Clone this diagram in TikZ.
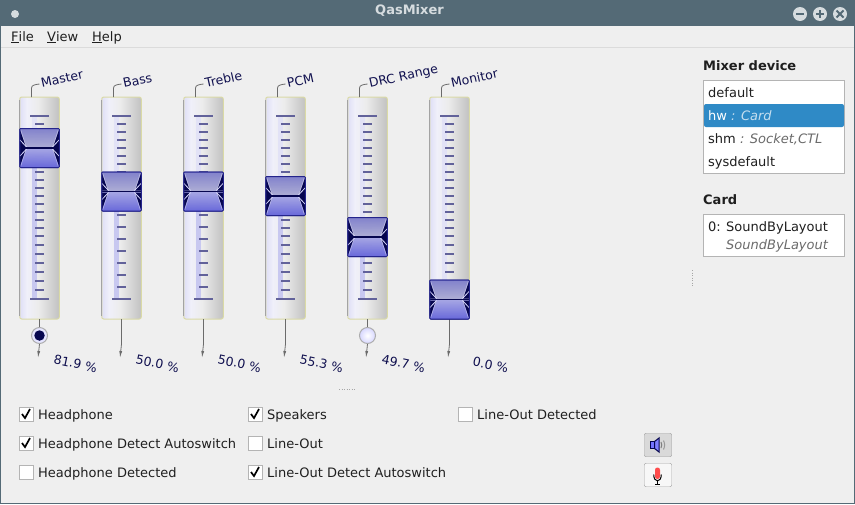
\documentclass[tikz,border=0pt]{standalone}
\usepackage{fontspec}
\setmainfont{DejaVu Sans}
\usetikzlibrary{arrows.meta}
\definecolor{titlebar}{HTML}{546A76}
\definecolor{titleglyph}{HTML}{D6DCDF}
\definecolor{windowbg}{HTML}{EFEFEF}
\definecolor{panelline}{HTML}{B4B4B4}
\definecolor{selectrow}{HTML}{2F8AC6}
\definecolor{navytext}{HTML}{10104F}
\definecolor{navydark}{HTML}{06064F}
\definecolor{tickcol}{HTML}{62629A}
\definecolor{edgeyellow}{HTML}{DADAA6}
\definecolor{handleedge}{HTML}{24248C}
\definecolor{uppertop}{HTML}{8E8EDC}
\definecolor{upperlow}{HTML}{BCBCE6}
\definecolor{lowertop}{HTML}{B4B4F6}
\definecolor{lowerlow}{HTML}{7272EC}
\definecolor{barlight}{HTML}{E2E2F6}
\definecolor{bardark}{HTML}{C8C8F0}
\pgfdeclarehorizontalshading{columnshade}{100bp}{
  rgb(0bp)=(.875,.875,.965); rgb(25bp)=(.875,.875,.965); rgb(34bp)=(.94,.94,.98);
  rgb(48bp)=(.925,.925,.925); rgb(75bp)=(.76,.76,.76); rgb(100bp)=(.76,.76,.76)}
\tikzset{
  plaintext/.style={anchor=base west, inner sep=0pt, font=\fontsize{13}{16}\selectfont, text=black!88},
  boldtext/.style={plaintext, font=\fontsize{13}{16}\selectfont\bfseries},
  hinttext/.style={plaintext, font=\fontsize{13}{16}\selectfont\itshape, text=black!58},
  fadertext/.style={anchor=base west, inner sep=0pt, font=\fontsize{12.5}{15}\selectfont, text=navytext},
  column/.style={draw=edgeyellow, line width=1pt, rounded corners=2pt, minimum width=39.5pt, minimum height=222pt, inner sep=0pt, outer sep=0pt, shading=columnshade},
  slider/.style={draw=handleedge, line width=1pt, rounded corners=1pt, minimum width=39.5pt, minimum height=39pt, inner sep=0pt, outer sep=0pt},
  leader/.style={draw=black!58, line width=.8pt},
  knob/.style={circle, draw=black!32, line width=1pt, minimum size=16pt, inner sep=0pt, fill=blue!10!white},
  chkbox/.style={draw=panelline, fill=white, minimum size=13.5pt, inner sep=0pt, outer sep=0pt},
  chkmark/.style={draw=black, line width=1.7pt},
  toolbtn/.style={draw=black!36, rounded corners=2pt, minimum width=27.5pt, minimum height=23.5pt, inner sep=0pt}
}
\def\ticksa{116,124,...,236,245,254,...,299}
\def\ticksb{116,124,...,172,180,191,203,215,227,...,299}
\begin{document}
\begin{tikzpicture}[x=1pt,y=-1pt]
\useasboundingbox (0,0) rectangle (855,504);
% window
\fill[windowbg] (0,0) rectangle (855,504);
\fill[titlebar] (0,0) rectangle (855,26);
\fill[titlebar] (0,0) rectangle (1,504);
\fill[titlebar] (854,0) rectangle (855,504);
\fill[titlebar] (0,503) rectangle (855,504);
\draw[black!14] (1,47.5) -- (854,47.5);
\node[font=\fontsize{13}{16}\selectfont\bfseries, text=titleglyph] (title) at (409.5,11) {QasMixer};
\node[circle, fill=titleglyph, minimum size=8pt, inner sep=0pt] (winmenu) at (15,14) {};
\foreach \id/\bx in {winmin/800,winmax/820,winclose/840}
  \node[circle, fill=titleglyph, minimum size=14pt, inner sep=0pt] (\id) at (\bx,14) {};
\draw[titlebar, line width=2pt] (796,14) -- (804,14);
\draw[titlebar, line width=2pt] (816,14) -- (824,14) (820,10) -- (820,18);
\draw[titlebar, line width=2pt] (836.5,10.5) -- (843.5,17.5) (836.5,17.5) -- (843.5,10.5);
% menu
\node[plaintext] (menufile) at (11,41) {\underline{F}ile};
\node[plaintext] (menuview) at (47,41) {\underline{V}iew};
\node[plaintext] (menuhelp) at (92,41) {\underline{H}elp};
% faders
\foreach \id/\cx/\hy/\lbl/\pct/\px/\py/\tkset in {
  master/39.5/148/Master/81.9/53/363.5/1,
  bass/121.5/191.5/Bass/50.0/135/363.5/2,
  treble/203.5/191.5/Treble/50.0/217/363.5/2,
  pcm/285.5/196/PCM/55.3/299/363.5/1,
  drc/367.5/237/DRC Range/49.7/381/363.5/1,
  monitor/449.5/299.5/Monitor/0.0/472/365.5/1}{
  \ifnum\tkset=1 \let\ticklist\ticksa \else \let\ticklist\ticksb \fi
  \node[column] (\id) at (\cx,208) {};
  \draw[black!36, line width=.8pt] (\cx-19.7,100) -- (\cx-19.7,316);
  \fill[barlight] (\cx-7.5,116) rectangle (\cx-2.8,299);
  \fill[bardark] (\cx-7.5,\hy) rectangle (\cx-2.8,299);
  \foreach \tk in \ticklist
    \draw[tickcol, line width=1.2pt] (\cx-4.5,\tk) -- (\cx+4.5,\tk);
  \draw[tickcol, line width=1.4pt] (\cx-9.5,116) -- (\cx+9.5,116);
  \draw[tickcol, line width=1.4pt] (\cx-9.5,299) -- (\cx+9.5,299);
  % label and value
  \coordinate (\id top) at (\cx-8,88);
  \coordinate (\id tip) at (\cx,84);
  \draw[leader] (\id.north west -| \id top) -- (\id top) .. controls (\cx-8,85) and (\cx-4,84.5) .. (\id tip);
  \node[fadertext, rotate=12.5] (\id name) at (\cx+2.5,88) {\lbl};
  \coordinate (\id bend) at (\cx,344);
  \coordinate (\id end) at (\cx-1.5,358);
  \draw[leader] (\id.south) -- (\id bend);
  \draw[leader, -{Latex[length=7pt,width=3pt]}] (\id bend) -- (\id end);
  \node[fadertext, rotate=-12] (\id value) at (\px,\py) {\pct{} \%};
  % handle
  \node[slider] (\id handle) at (\cx,\hy) {};
  \begin{scope}[shift={(\cx,\hy)}]
    \fill[fill opacity=.92, top color=uppertop, bottom color=upperlow] (-19.5,-19) rectangle (19.5,0);
    \fill[fill opacity=.92, top color=lowertop, bottom color=lowerlow] (-19.5,0) rectangle (19.5,19);
    \foreach \sx/\sy in {1/1,-1/1,1/-1,-1/-1}{
      \begin{scope}[xscale=\sx,yscale=\sy]
        \fill[navydark] (-19.5,-18) -- (-13.5,-1) -- (-19.5,-1) -- cycle;
        \draw[blue!14!white, line width=.8pt] (-19.5,-8) -- (-13,-1);
        \draw[white, opacity=.4, line width=.6pt] (-19,-19) -- (-13.5,-1.5);
      \end{scope}
    }
  \end{scope}
  \draw[navydark, line width=1.2pt] (\id handle.west) -- (\id handle.east);
  \draw[handleedge, line width=1pt, rounded corners=1pt] (\id handle.north west) rectangle (\id handle.south east);
}
% switches
\node[knob] (masterknob) at (39.5,335.5) {};
\node[circle, fill=navydark, minimum size=10.5pt, inner sep=0pt] (masterdot) at (masterknob.center) {};
\node[knob, inner color=white, outer color=blue!16!white] (drcknob) at (367.5,335.5) {};
% splitters
\draw[black!35, line width=.8pt, dash pattern=on 1pt off 1.5pt] (339,389.5) -- (355,389.5);
\draw[black!35, line width=.8pt, dash pattern=on 1pt off 1.5pt] (692,270) -- (692,286);
% device list
\node[boldtext] (devtitle) at (703,70) {Mixer device};
\node[draw=panelline, fill=white, minimum width=141pt, minimum height=93pt, inner sep=0pt] (devlist) at (774,127) {};
\fill[selectrow, rounded corners=2pt] (704,104) rectangle (844,127);
\node[plaintext] (devdefault) at (708,97) {default};
\node[plaintext, text=white] (devhw) at (708,120) {hw \itshape\color{white!72!selectrow}: Card};
\node[plaintext] (devshm) at (708,143) {shm \itshape\color{black!58}: Socket,CTL};
\node[plaintext] (devsys) at (708,166) {sysdefault};
\node[boldtext] (cardtitle) at (703,204) {Card};
\node[draw=panelline, fill=white, minimum width=141pt, minimum height=42pt, inner sep=0pt] (cardlist) at (774,235.5) {};
\node[plaintext] (cardnum) at (708,231) {0:};
\node[plaintext] (cardname) at (726,231) {SoundByLayout};
\node[hinttext] (cardhint) at (726,249) {SoundByLayout};
% switches row
\foreach \id/\bx/\by/\on/\txt in {
  chkphone/26/414/1/Headphone,
  chkauto/26/443/1/Headphone Detect Autoswitch,
  chkdet/26/472/0/Headphone Detected,
  chkspk/255/414/1/Speakers,
  chkline/255/443/0/Line-Out,
  chklineauto/255/472/1/Line-Out Detect Autoswitch,
  chklinedet/465/414/0/Line-Out Detected}{
  \node[chkbox] (\id) at (\bx,\by) {};
  \ifnum\on=1
    \draw[chkmark] (\bx-4,\by) -- (\bx-1,\by+4) -- (\bx+4,\by-5);
  \fi
  \node[plaintext] (\id text) at (\bx+12,\by+5) {\txt};
}
% speaker and microphone
\node[toolbtn, fill=black!15] (btnspeaker) at (658,445) {};
\node[toolbtn, fill=black!3] (btnmic) at (658,475) {};
\filldraw[draw=navydark, fill=blue!55!white, line width=1pt] (650.5,441.5) rectangle (654.5,448.5);
\filldraw[draw=navydark, fill=blue!50!white, line width=1pt] (654.5,441.5) -- (659,438) -- (659,452) -- (654.5,448.5) -- cycle;
\draw[black!50, line width=1pt] (661,442) .. controls (662,444) and (662,446) .. (661,448);
\draw[black!40, line width=1pt] (663.5,440.5) .. controls (665,444) and (665,446) .. (663.5,449.5);
\fill[red!70!white, rounded corners=2.4pt] (655,467.5) rectangle (660,479);
\draw[black, line width=1pt] (653.7,474.5) .. controls (653.7,483) and (661.3,483) .. (661.3,474.5);
\draw[black, line width=1.2pt] (657.5,481) -- (657.5,484);
\draw[black, line width=1.2pt] (655,484.2) -- (660,484.2);
\end{tikzpicture}
\end{document}
